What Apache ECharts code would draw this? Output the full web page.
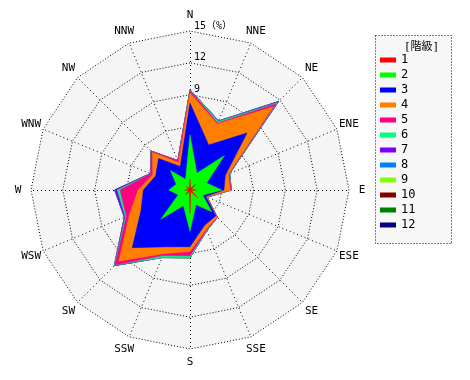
<!DOCTYPE html>
<html><head><meta charset="utf-8">
<script src="https://cdn.jsdelivr.net/npm/echarts@6/dist/echarts.min.js"></script>
<style>html,body{margin:0;padding:0;background:#fff}#c{width:470px;height:380px}</style>
</head><body><div id="c"></div>
<script>
const directions = ['N','NNE','NE','ENE','E','ESE','SE','SSE','S','SSW','SW','WSW','W','WNW','NW','NNW'];
const classNames = ['1','2','3','4','5','6','7','8','9','10','11','12'];
const tickLabels = ['0','3','6','9','12','15（%）'];
// per-class frequency (%) for each direction
const class1  = [1.0,0.15,0.8,0.15,0.6,0.15,1.0,0.15,2.2,0.15,0.6,0.15,0.5,0.15,0.5,0.15];
const class2  = [4.2,1.55,3.8,1.55,2.4,1.15,1.9,1.35,1.7,1.45,3.3,1.05,1.5,1.25,2.1,0.95];
const class3  = [3.0,2.9,3.0,1.9,0.2,0.3,0.55,2.1,1.45,4.2,3.8,3.8,2.4,2.1,1.6,1.3];
const class4  = [0.95,2.15,3.5,0.3,0.6,0.1,0.15,0.4,0.45,0.7,1.8,1.2,0.5,0.3,0.8,0.4];
const class5  = [0.25,0.1,0.4,0.1,0.1,0.05,0.05,0.1,0.4,0.2,0.5,0.3,1.7,0.2,0.2,0.2];
const class6  = [0.05,0.15,0.15,0.05,0,0,0,0.05,0.2,0.2,0.05,0.1,0.25,0,0,0];
const class7  = [0,0.05,0.15,0,0,0,0,0,0,0,0.05,0.1,0.25,0.05,0,0];
const class8  = [0,0,0,0,0,0,0,0,0,0,0,0,0,0,0,0];
const class9  = [0,0,0,0,0,0,0,0,0,0,0,0,0,0,0,0];
const class10 = [0,0,0,0,0,0,0,0,0,0,0,0,0,0,0,0];
const class11 = [0,0,0,0,0,0,0,0,0,0,0,0,0,0,0,0];
const class12 = [0,0,0,0,0,0,0,0,0,0,0,0,0,0,0,0];
const colors = ['#ff0000','#00ff00','#0000ff','#ff8000','#ff0080','#00ff80','#8000ff','#0080ff','#80ff00','#800000','#008000','#000080'];

const classes = [class1,class2,class3,class4,class5,class6,class7,class8,class9,class10,class11,class12];
// radar runs counter-clockwise, so list directions N, NNW, NW, ... to get a clockwise rose
const order = [0].concat(directions.map((d,i)=>i).slice(1).reverse());
const FONT = '"DejaVu Sans Mono","Noto Sans CJK JP",monospace';

const cum = [];
let run = directions.map(()=>0);
classes.forEach((arr)=>{ run = run.map((v,i)=>+(v+arr[i]).toFixed(3)); cum.push(run.slice()); });

const indicator = order.map((k,j)=>({
  name: directions[k], min: 0, max: 15,
  axisLabel: { show: j===0 }
}));

const series = [];
for (let c = classes.length-1; c >= 0; c--) {
  series.push({
    type: 'radar', name: classNames[c], symbol: 'none', silent: true,
    itemStyle: { color: colors[c] },
    lineStyle: { width: 0.5, color: colors[c] },
    areaStyle: { color: colors[c], opacity: 1 },
    data: [{ value: order.map(k=>cum[c][k]), name: classNames[c] }]
  });
}

const chart = echarts.init(document.getElementById('c'), null, {renderer:'canvas'});
chart.setOption({
  animation: false,
  title: { text: '[階級]', left: 399, top: 37, textStyle: { fontSize: 11, fontWeight: 'normal', color: '#000', fontFamily: FONT } },
  graphic: [{ type: 'rect', z: -1, shape: { x: 375.5, y: 35.5, width: 76, height: 208 },
    style: { fill: '#f7f7f7', stroke: '#000', lineWidth: 1, lineDash: [1,2] } }],
  legend: {
    data: classNames, orient: 'vertical', left: 380, top: 54, padding: 0,
    itemWidth: 16, itemHeight: 5, itemGap: 3, icon: 'rect', selectedMode: false,
    textStyle: { fontSize: 12, lineHeight: 12, color: '#000', fontFamily: FONT }
  },
  radar: {
    center: [190, 190], radius: 159, startAngle: 90, shape: 'polygon', splitNumber: 5,
    indicator: indicator,
    axisName: { color: '#000', fontSize: 11, fontFamily: FONT, align: 'center', verticalAlign: 'middle' },
    nameGap: 13,
    splitLine: { lineStyle: { color: '#000', type: [1,2], width: 1 } },
    splitArea: { show: true, areaStyle: { color: ['#f5f5f5'] } },
    axisLine: { lineStyle: { color: '#000', type: [1,3], width: 1, cap: 'butt' } },
    axisTick: { show: false },
    axisLabel: { show: false, color: '#000', fontSize: 10, fontFamily: FONT, margin: -4,
      align: 'left', verticalAlign: 'bottom',
      formatter: (v)=> tickLabels[Math.round(v/3)] }
  },
  series: series
});
</script></body></html>
